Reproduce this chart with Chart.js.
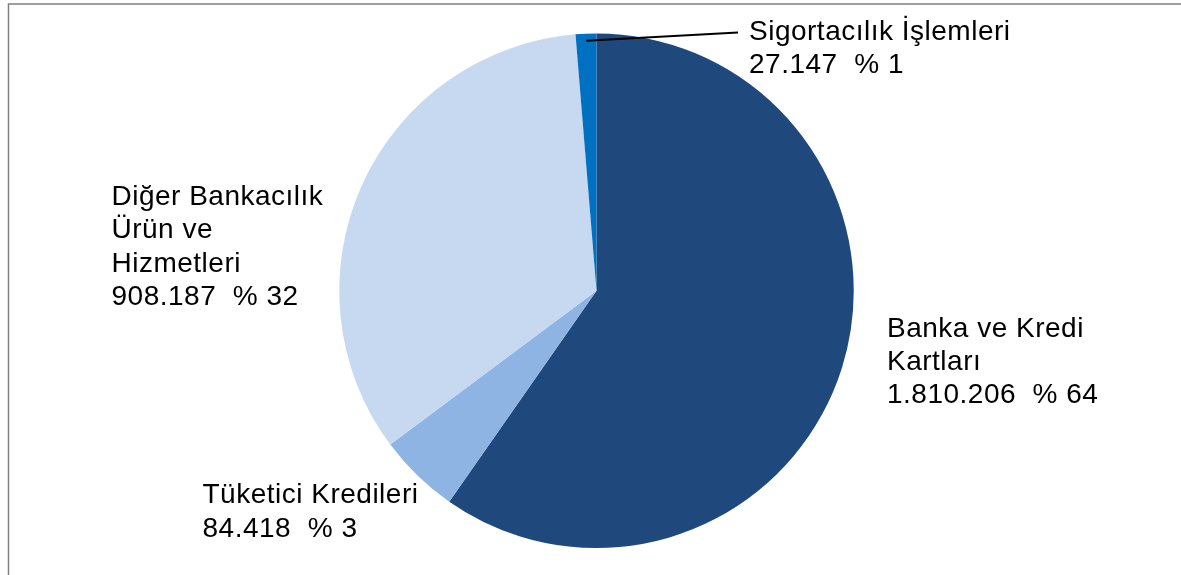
<!DOCTYPE html>
<html>
<head>
<meta charset="utf-8">
<script src="https://cdn.jsdelivr.net/npm/chart.js@4/dist/chart.umd.min.js"></script>
<style>
  html, body { margin: 0; padding: 0; background: #ffffff; }
  #wrap { position: relative; width: 1181px; height: 575px; }
  canvas { display: block; }
</style>
</head>
<body>
<div id="wrap"><canvas id="c" width="1181" height="575"></canvas></div>
<script>
// Categories (slice order, clockwise from 12 o'clock)
const categories = ["Banka ve Kredi Kartları", "Tüketici Kredileri", "Diğer Bankacılık Ürün ve Hizmetleri", "Sigortacılık İşlemleri"];
// Label lines as printed in the picture
const labelLines = [
  ["Banka ve Kredi", "Kartları"],
  ["Tüketici Kredileri"],
  ["Diğer Bankacılık", "Ürün ve", "Hizmetleri"],
  ["Sigortacılık İşlemleri"]
];
// Printed amounts and percentages (label text)
const amountLabels = ["1.810.206", "84.418", "908.187", "27.147"];
const percentLabels = ["% 64", "% 3", "% 32", "% 1"];
// Slice shares as drawn in the picture (%)
const sliceShares = [59.7, 5.1, 33.9, 1.3];
const sliceColors = ["#1F497D", "#8EB4E3", "#C6D9F1", "#0070C0"];

const labelFont = '28px "Liberation Sans", Arial, sans-serif';
const lineGap = 33.3;
// label anchor (left x, first baseline y) per slice — layout only
const labelAnchors = [
  {x: 887, y: 336.7},
  {x: 202.5, y: 503.3},
  {x: 111.5, y: 205},
  {x: 749, y: 40}
];

const framePlugin = {
  id: 'frame',
  beforeDraw(chart) {
    const ctx = chart.ctx;
    ctx.save();
    ctx.fillStyle = '#ffffff';
    ctx.fillRect(0, 0, chart.width, chart.height);
    ctx.strokeStyle = '#808080';
    ctx.lineWidth = 1.5;
    ctx.beginPath();
    ctx.moveTo(8.5, chart.height + 2);
    ctx.lineTo(8.5, 4);
    ctx.lineTo(chart.width + 2, 4);
    ctx.stroke();
    ctx.restore();
  }
};

const labelPlugin = {
  id: 'sliceLabels',
  afterDatasetsDraw(chart) {
    const ctx = chart.ctx;
    const meta = chart.getDatasetMeta(0);
    ctx.save();
    ctx.font = labelFont;
    try { ctx.letterSpacing = '0.5px'; } catch (e) {}
    ctx.fillStyle = '#000000';
    ctx.textBaseline = 'alphabetic';
    ctx.textAlign = 'left';
    categories.forEach((cat, i) => {
      const a = labelAnchors[i];
      const lines = labelLines[i].concat([amountLabels[i] + "  " + percentLabels[i]]);
      lines.forEach((ln, k) => ctx.fillText(ln, a.x, a.y + k * lineGap));
    });
    // leader line for the small insurance slice
    const arc = meta.data[3];
    const mid = (arc.startAngle + arc.endAngle) / 2;
    const r = arc.outerRadius - 7;
    const sx = arc.x + Math.cos(mid) * r;
    const sy = arc.y + Math.sin(mid) * r;
    ctx.strokeStyle = '#000000';
    ctx.lineWidth = 2;
    ctx.beginPath();
    ctx.moveTo(sx, sy);
    ctx.lineTo(labelAnchors[3].x - 11, labelAnchors[3].y - 7.5);
    ctx.stroke();
    ctx.restore();
  }
};

new Chart(document.getElementById('c'), {
  type: 'pie',
  data: {
    labels: categories,
    datasets: [{
      data: sliceShares,
      backgroundColor: sliceColors,
      borderWidth: 0
    }]
  },
  options: {
    responsive: false,
    animation: false,
    layout: { padding: { left: 100, right: 88, top: 33.5, bottom: 27 } },
    plugins: {
      legend: { display: false },
      tooltip: { enabled: false },
      title: { display: false }
    }
  },
  plugins: [framePlugin, labelPlugin]
});
</script>
</body>
</html>
